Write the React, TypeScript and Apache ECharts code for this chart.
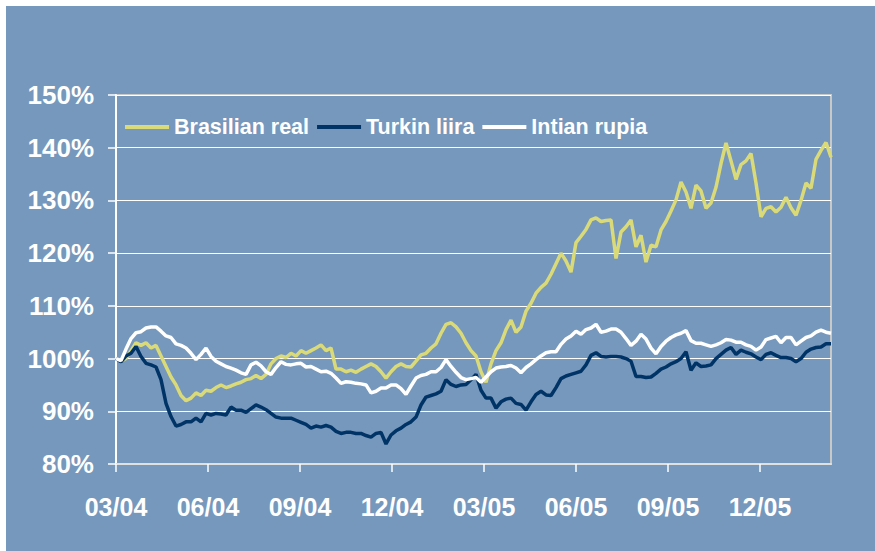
import React, { useEffect, useRef } from "react";
import * as echarts from "echarts";

// x positions: days since the start (one sample every 5 days), quarters 92 days apart
const xStep = 5;
const quarterTicks = [0, 92, 184, 276, 368, 460, 552, 644];
const quarterLabels = ["03/04", "06/04", "09/04", "12/04", "03/05", "06/05", "09/05", "12/05"];
const yTicks = [80, 90, 100, 110, 120, 130, 140, 150];

const brasilianReal = [
  100, 99.5, 100, 101.5, 103, 102.5, 103, 102, 102.5, 100.5,
  98.5, 96.5, 95, 93, 92, 92.5, 93.5, 93, 94, 93.8,
  94.5, 95, 94.5, 94.8, 95.2, 95.5, 96, 96.2, 96.8, 96.2,
  97, 99, 100, 100.5, 100.2, 101, 100.5, 101.5, 101, 101.5,
  102, 102.6, 101.5, 102, 98, 98, 97.5, 97.8, 97.4, 98,
  98.5, 99, 98.5, 97.5, 96.3, 97.5, 98.5, 99, 98.5, 98.4,
  99.5, 100.7, 101, 102, 102.8, 104.8, 106.5, 106.8, 106, 104.8,
  103, 101.5, 100.5, 97.5, 95.5, 99, 101.5, 103, 105.5, 107.3,
  105, 106, 109, 110.5, 112.4, 113.5, 114.3, 116, 118, 120,
  118.5, 116.4, 122, 123.2, 124.5, 126.3, 126.7, 126, 126.2, 126.3,
  119, 124, 125, 126.3, 121.2, 123.4, 118.3, 121.5, 121.2, 124.4,
  126, 128, 130.1, 133.5, 131.6, 128.5, 132.9, 131.8, 128.5, 129.5,
  132.5, 137, 140.9, 137.5, 134, 136.8, 137.5, 138.9, 133.3, 126.9,
  128.5, 128.8, 127.8, 128.7, 130.6, 128.6, 127.2, 130, 133.3, 132.3,
  137.8, 139.5, 141, 138.2,
];

const turkinLiira = [
  100, 99.4, 100.5, 101, 102.3, 100.4, 99.1, 98.8, 98.4, 96,
  91.5, 89, 87.2, 87.5, 88, 88, 88.7, 88, 89.6, 89.3,
  89.6, 89.5, 89.3, 90.8, 90.2, 90.2, 89.8, 90.5, 91.2, 90.8,
  90.3, 89.6, 88.9, 88.7, 88.7, 88.7, 88.3, 87.9, 87.5, 86.8,
  87.2, 87, 87.3, 87, 86.2, 85.8, 86, 86, 85.8, 85.8,
  85.4, 85.1, 85.8, 86, 83.8, 85.5, 86.3, 86.8, 87.5, 88,
  88.9, 91.2, 92.7, 93, 93.3, 93.8, 96, 95.1, 94.7, 95,
  95.1, 96, 97, 94, 92.5, 92.5, 90.6, 91.8, 92.3, 92.5,
  91.5, 91.3, 90.2, 91.8, 93.2, 93.8, 93.1, 93, 94.5, 96.2,
  96.7, 97, 97.3, 97.6, 98.8, 100.6, 101.1, 100.4, 100.3, 100.4,
  100.4, 100.3, 100, 99.5, 96.6, 96.6, 96.4, 96.5, 97.2, 98,
  98.4, 99, 99.4, 100, 101.3, 97.8, 99.2, 98.5, 98.6, 98.8,
  100, 100.8, 101.6, 102.1, 100.8, 101.6, 101.2, 100.9, 100.3, 99.8,
  100.8, 101.1, 100.6, 100.2, 100.2, 100, 99.4, 100, 101.2, 101.8,
  102.1, 102.2, 102.8, 102.8,
];

const intianRupia = [
  100, 99.6, 101.8, 103.8, 104.9, 105.1, 105.8, 106, 106, 105.2,
  104.3, 104, 102.8, 102.5, 102, 101, 99.8, 100.8, 102, 100.4,
  99.5, 99, 98.5, 98.2, 97.8, 97.3, 97, 98.8, 99.3, 98.6,
  97.5, 97, 98.3, 99.4, 98.9, 98.8, 99, 99.1, 98.4, 98.5,
  98, 97.5, 97.6, 97.2, 96.3, 95.3, 95.6, 95.5, 95.3, 95.2,
  95, 93.5, 93.8, 94.4, 94.4, 95, 95, 94.3, 93.2, 94.8,
  96.3, 96.8, 97, 97.5, 97.5, 98.3, 99.8, 98.5, 97.4, 96.4,
  96, 96.2, 96.4, 95.5, 96.5, 97.5, 98.2, 98.4, 98.5, 98.7,
  98.2, 97.3, 98.3, 99, 99.8, 100.5, 101.1, 101.3, 101.3, 102.7,
  103.7, 104.3, 105.2, 104.6, 105.5, 105.8, 106.5, 105, 105.2, 105.6,
  105.6, 105, 103.8, 102.5, 103.3, 104.6, 103.7, 102, 100.9, 102.3,
  103.3, 104, 104.5, 104.8, 105.3, 103.4, 102.9, 102.9, 102.6, 102.3,
  102.6, 103, 103.6, 103.5, 103.1, 103.1, 102.6, 102.3, 101.6, 102.2,
  103.6, 103.9, 104.2, 103, 104, 104, 102.6, 103.3, 104, 104.3,
  105, 105.4, 105, 104.8,
];

const seriesNames = ["Brasilian real", "Turkin liira", "Intian rupia"];
const seriesColors = ["#dada78", "#003366", "#ffffff"];
const seriesValues = [brasilianReal, turkinLiira, intianRupia];

const FONT = "'Liberation Sans', Arial, Helvetica, sans-serif";

export default function App() {
  const ref = useRef<HTMLDivElement>(null);

  useEffect(() => {
    if (!ref.current) return;
    const chart = echarts.init(ref.current, undefined, { renderer: "svg" });
    const xMax = (brasilianReal.length - 1) * xStep;
    chart.setOption({
      animation: false,
      backgroundColor: "#7698bc",
      textStyle: { fontFamily: FONT },
      grid: {
        left: 110,
        top: 89,
        right: 44,
        bottom: 87,
        show: true,
        borderColor: "#c8c8c8",
        borderWidth: 2,
        backgroundColor: "transparent",
        containLabel: false,
        outerBoundsMode: "none",
      },
      legend: {
        left: 119,
        top: 109,
        padding: 0,
        icon: "rect",
        itemWidth: 44,
        itemHeight: 4,
        itemGap: 8,
        textStyle: {
          color: "#ffffff",
          fontSize: 21.5,
          fontWeight: "bold",
          fontFamily: FONT,
          lineHeight: 24,
        },
        data: seriesNames,
      },
      xAxis: {
        type: "value",
        min: 0,
        max: xMax,
        interval: 92,
        axisLine: { show: true, lineStyle: { color: "#e0e0e0", width: 2 } },
        axisTick: {
          show: true,
          length: 8,
          customValues: quarterTicks,
          lineStyle: { color: "#ffffff", width: 1.5 },
        },
        axisLabel: {
          customValues: quarterTicks,
          margin: 30,
          color: "#ffffff",
          fontSize: 25,
          fontWeight: "bold",
          fontFamily: FONT,
          formatter: (v: number) => {
            const idx = quarterTicks.indexOf(Math.round(v));
            return idx >= 0 ? quarterLabels[idx] : "";
          },
        },
        splitLine: { show: false },
      },
      yAxis: {
        type: "value",
        min: yTicks[0],
        max: yTicks[yTicks.length - 1],
        interval: 10,
        axisLine: { show: true, lineStyle: { color: "#ffffff", width: 2 } },
        axisTick: { show: true, length: 8, lineStyle: { color: "#ffffff", width: 1.5 } },
        axisLabel: {
          margin: 22,
          color: "#ffffff",
          fontSize: 26,
          fontWeight: "bold",
          fontFamily: FONT,
          formatter: "{value}%",
        },
        splitLine: { show: true, lineStyle: { color: "#ffffff", width: 1.2 } },
      },
      series: seriesValues.map((vals, s) => ({
        name: seriesNames[s],
        type: "line",
        showSymbol: false,
        symbol: "none",
        color: seriesColors[s],
        lineStyle: { color: seriesColors[s], width: 3.5 },
        data: vals.map((v, i) => [i * xStep, v]),
      })),
    });
    return () => chart.dispose();
  }, []);

  return (
    <div
      style={{
        position: "fixed",
        left: 0,
        top: 0,
        width: 875,
        height: 551,
        background: "#ffffff",
      }}
    >
      <div
        ref={ref}
        style={{ position: "absolute", left: 6, top: 6, width: 869, height: 545 }}
      />
    </div>
  );
}
